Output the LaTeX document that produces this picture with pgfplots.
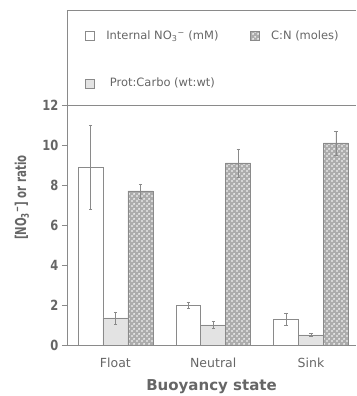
\documentclass[border=0pt]{standalone}
\usepackage{pgfplots}
\pgfplotsset{compat=1.18}
\usepackage{fontspec}
\setmainfont{DejaVu Sans}
\usetikzlibrary{patterns}
\definecolor{txt}{HTML}{666666}
\definecolor{ln}{HTML}{8A8A8A}
\pgfdeclarepatternformonly{holes}{\pgfpointorigin}{\pgfqpoint{4.5pt}{4.5pt}}{\pgfqpoint{4.5pt}{4.5pt}}{%
  \pgfpathcircle{\pgfqpoint{1.125pt}{1.125pt}}{1.0pt}%
  \pgfpathcircle{\pgfqpoint{3.375pt}{3.375pt}}{1.0pt}%
  \pgfusepath{fill}}
\newcommand{\yt}[1]{\scalebox{0.82}[1]{#1}}
\begin{document}
\begin{tikzpicture}
\begin{axis}[
  scale only axis, width=289pt, height=335pt,
  xmin=-0.495, xmax=2.46, ymin=0, ymax=16.75,
  axis x line*=bottom, axis y line*=left,
  axis line style={ln, line width=0.8pt, -},
  ybar=0pt, bar width=0.255,
  xtick={0,1,2}, xticklabels={Float,Neutral,Sink},
  x tick style={draw=none},
  ytick={0,2,4,6,8,10,12},
  yticklabels={\yt{0},\yt{2},\yt{4},\yt{6},\yt{8},\yt{10},\yt{12}},
  y tick style={ln, line width=0.8pt},
  tick align=outside, major tick length=5pt,
  tick label style={text=txt},
  yticklabel style={font=\fontsize{14}{15}\selectfont\bfseries},
  xticklabel style={font=\fontsize{12.5}{13}\selectfont, yshift=-4pt},
  xlabel={Buoyancy state},
  xlabel style={font=\fontsize{15}{16}\selectfont\bfseries, text=txt, yshift=-5pt},
  ylabel={\scalebox{0.68}[1]{[NO\textsubscript{3}\textsuperscript{−}] or ratio}},
  ylabel style={font=\fontsize{15}{16}\selectfont\bfseries, text=txt,
    at={(axis description cs:-0.156,0.44)}, anchor=center},
  error bars/y dir=both, error bars/y explicit,
  error bars/error bar style={ln, line width=0.5pt},
  error bars/error mark options={rotate=90, mark size=1.6pt, ln, line width=0.5pt},
  legend columns=2, transpose legend,
  legend image code/.code={\draw[#1, draw=ln] (0pt,-4.5pt) rectangle (9pt,4.5pt);},
  legend style={at={(axis description cs:0.05,0.95)}, anchor=north west, draw=none, fill=none,
    font=\fontsize{11.5}{12}\selectfont, text=txt,
    /tikz/every odd column/.append style={column sep=10pt},
    /tikz/every even column/.append style={column sep=29pt},
    row sep=33pt},
]
\addplot[draw=ln, fill=white, line width=0.6pt] coordinates {(0,8.9) +- (0,2.1) (1,2.0) +- (0,0.15) (2,1.3) +- (0,0.3)};
\addlegendentry{Internal NO\textsubscript{3}\textsuperscript{−} (mM)}
\addplot[draw=ln, fill=gray!22, line width=0.6pt] coordinates {(0,1.35) +- (0,0.3) (1,1.0) +- (0,0.17) (2,0.5) +- (0,0.07)};
\addlegendentry{Prot:Carbo (wt:wt)}
\addplot[draw=ln, fill=gray!65, postaction={pattern=holes, pattern color=white}, line width=0.6pt] coordinates {(0,7.7) +- (0,0.35) (1,9.1) +- (0,0.7) (2,10.1) +- (0,0.6)};
\addlegendentry{C:N (moles)}
\draw[ln, line width=0.8pt] (rel axis cs:0,1) -- (rel axis cs:1,1);
\draw[ln, line width=0.8pt] (axis cs:-0.495,12) -- (axis cs:2.46,12);
\end{axis}
\pgfresetboundingbox
\path[use as bounding box] (-67pt,-51pt) rectangle (289pt,345pt);
\end{tikzpicture}
\end{document}
